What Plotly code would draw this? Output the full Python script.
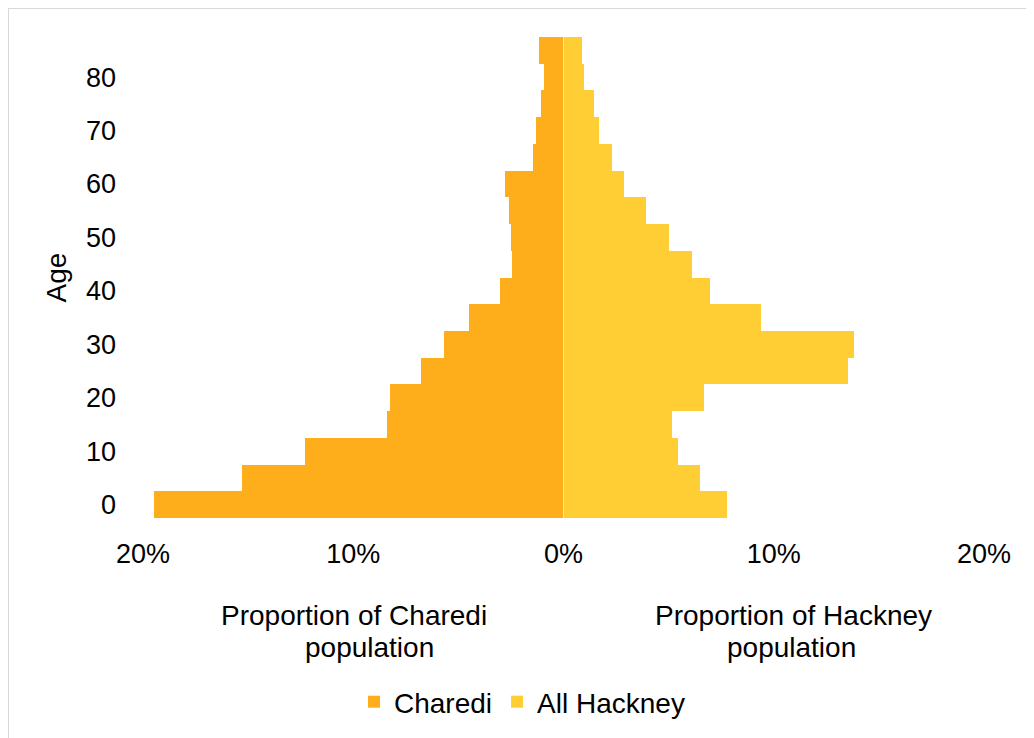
import plotly.graph_objects as go

# Age band (start of 5-year band)
ages = [0, 5, 10, 15, 20, 25, 30, 35, 40, 45, 50, 55, 60, 65, 70, 75, 80, 85]
# Proportion of Charedi population (%)
charedi = [19.5, 15.3, 12.3, 8.4, 8.25, 6.8, 5.7, 4.5, 3.0, 2.46, 2.52, 2.57, 2.76, 1.43, 1.30, 1.05, 0.94, 1.17]
# Proportion of Hackney population (%)
hackney = [7.77, 6.5, 5.45, 5.15, 6.67, 13.55, 13.8, 9.41, 6.97, 6.12, 5.02, 3.93, 2.88, 2.30, 1.68, 1.44, 0.97, 0.87]

x_tickvals = [-20, -10, 0, 10, 20]
x_ticktext = ["20%", "10%", "0%", "10%", "20%"]
y_tickvals = [0, 10, 20, 30, 40, 50, 60, 70, 80]

FONT = "Liberation Sans, Arial, sans-serif"
ORANGE = "#FDAE1A"
YELLOW = "#FECE34"

fig = go.Figure()
fig.add_trace(go.Bar(
    y=ages, x=[-v for v in charedi], orientation="h", name="Charedi",
    marker=dict(color=ORANGE, line=dict(width=0)), width=5,
))
fig.add_trace(go.Bar(
    y=ages, x=hackney, orientation="h", name="All Hackney",
    marker=dict(color=YELLOW, line=dict(width=0)), width=5,
))

OFF = 8  # page body margin
W, H = 1034 - OFF, 738 - OFF
L, R, T, B = 143 - OFF, 984 - OFF, 37 - OFF, 519 - OFF
pw, ph = R - L, B - T

def px(xp):
    # xp: screenshot pixel x
    return (xp - OFF - L) / pw

def py(yp):
    # yp: screenshot pixel y
    return (B - (yp - OFF)) / ph

fig.update_layout(
    width=W, height=H,
    margin=dict(l=L, r=W - R, t=T, b=H - B),
    paper_bgcolor="white", plot_bgcolor="white",
    barmode="overlay", bargap=0,
    font=dict(family=FONT, size=27, color="#000000"),
    showlegend=True,
    legend=dict(
        orientation="h", x=px(522), y=py(702), xanchor="center", yanchor="middle",
        font=dict(family=FONT, size=28, color="#000000"),
        itemwidth=30, bgcolor="rgba(0,0,0,0)",
    ),
    xaxis=dict(
        range=[-20, 20], tickvals=x_tickvals, ticktext=x_ticktext,
        showgrid=False, zeroline=False, showline=False,
        tickfont=dict(family=FONT, size=27, color="#000000"),
        ticks="", ticklabelstandoff=17, fixedrange=True,
    ),
    yaxis=dict(
        range=[-2.5, 87.5], tickvals=y_tickvals,
        showgrid=False, zeroline=False, showline=False,
        tickfont=dict(family=FONT, size=27, color="#000000"),
        ticks="", ticklabelstandoff=26, fixedrange=True,
    ),
    shapes=[
        dict(type="line", xref="x", yref="paper", x0=0, x1=0, y0=0, y1=1,
             line=dict(color="#e6e6e6", width=1)),
        dict(type="rect", xref="paper", yref="paper",
             x0=px(8), x1=px(1045), y0=py(750), y1=py(8),
             line=dict(color="#d9d9d9", width=2), fillcolor="rgba(0,0,0,0)", layer="below"),
    ],
    annotations=[
        dict(text="Age", xref="paper", yref="paper", x=px(56), y=py(278),
             textangle=-90, showarrow=False, xanchor="center", yanchor="middle",
             font=dict(family=FONT, size=28, color="#000000")),
        dict(text="Proportion of Charedi", xref="paper", yref="paper", x=px(354), y=py(617),
             showarrow=False, xanchor="center", yanchor="middle",
             font=dict(family=FONT, size=28, color="#000000")),
        dict(text="population", xref="paper", yref="paper", x=px(369), y=py(649),
             showarrow=False, xanchor="center", yanchor="middle",
             font=dict(family=FONT, size=28, color="#000000")),
        dict(text="Proportion of Hackney", xref="paper", yref="paper", x=px(793), y=py(617),
             showarrow=False, xanchor="center", yanchor="middle",
             font=dict(family=FONT, size=28, color="#000000")),
        dict(text="population", xref="paper", yref="paper", x=px(791), y=py(649),
             showarrow=False, xanchor="center", yanchor="middle",
             font=dict(family=FONT, size=28, color="#000000")),
    ],
)

fig.write_html("out.html")
